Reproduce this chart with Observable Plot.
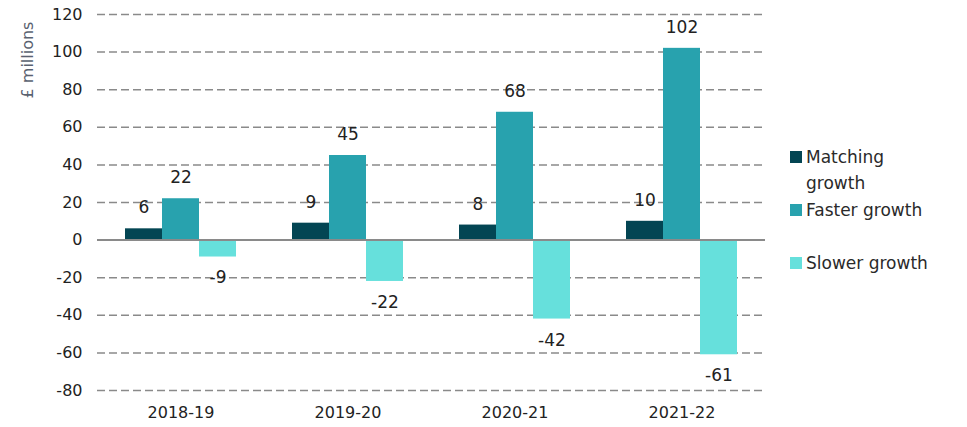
<!DOCTYPE html>
<html>
<head>
<meta charset="utf-8">
<script src="https://cdn.jsdelivr.net/npm/d3@7"></script>
<script src="https://cdn.jsdelivr.net/npm/@observablehq/plot@0.6"></script>
<style>
  body { margin: 0; background: #fff; }
  #wrap { position: relative; width: 967px; height: 427px; font-family: "DejaVu Sans", sans-serif; }
  #ylabel { position: absolute; left: 27px; top: 60px; transform: translate(-50%, -50%) rotate(-90deg); font-size: 16px; color: #5a6270; white-space: nowrap; }
  .leg { position: absolute; left: 790px; font-size: 17px; color: #2a2a2a; line-height: 26px; }
  .sw { position: absolute; left: 0; top: 7px; width: 12px; height: 12px; }
  .lt { margin-left: 16px; }
</style>
</head>
<body>
<div id="wrap">
  <div id="chart"></div>
  <div id="ylabel">£ millions</div>
  <div id="legend"></div>
</div>
<script>
const years = ["2018-19", "2019-20", "2020-21", "2021-22"];
const series = ["Matching growth", "Faster growth", "Slower growth"];
const matching = [6, 9, 8, 10];
const faster = [22, 45, 68, 102];
const slower = [-9, -22, -42, -61];
const colors = ["#034553", "#28a2ae", "#66e0dc"];
const yTicks = [-80, -60, -40, -20, 0, 20, 40, 60, 80, 100, 120];

const values = [matching, faster, slower];
const data = [];
years.forEach((yr, i) => series.forEach((s, j) => data.push({year: yr, series: s, value: values[j][i]})));

const chart = Plot.plot({
  width: 967,
  height: 427,
  marginTop: 14,
  marginBottom: 37,
  marginLeft: 95,
  marginRight: 201,
  style: {fontFamily: "DejaVu Sans, sans-serif", fontSize: "16px", color: "#222", background: "#fff"},
  fx: {domain: years, padding: 0, label: null},
  x: {domain: series, paddingInner: 0, paddingOuter: 0.72, axis: null},
  y: {domain: [-80, 120], label: null},
  color: {domain: series, range: colors},
  marks: [
    Plot.gridY(yTicks, {stroke: "#8a8a8a", strokeOpacity: 1, strokeWidth: 1.5, strokeDasharray: "8,4"}),
    Plot.axisY(yTicks, {tickSize: 0, tickPadding: 15, fontSize: 16, label: null, tickFormat: d => String(d)}),
    Plot.axisFx({anchor: "bottom", tickSize: 0, tickPadding: 16, fontSize: 16, label: null}),
    Plot.barY(data, {fx: "year", x: "series", y: "value", fill: "series", inset: 0}),
    Plot.ruleY([0], {stroke: "#8a8a8a", strokeWidth: 2}),
    Plot.text(data.filter(d => d.value >= 0), {fx: "year", x: "series", y: "value", text: d => String(d.value), dy: -21, fontSize: 17, fill: "#222"}),
    Plot.text(data.filter(d => d.value < 0), {fx: "year", x: "series", y: "value", text: d => String(d.value), dy: 21, fontSize: 17, fill: "#222"})
  ]
});
document.getElementById("chart").appendChild(chart);

const legendItems = [
  {label: "Matching<br>growth", top: 144},
  {label: "Faster growth", top: 197},
  {label: "Slower growth", top: 250}
];
const legend = document.getElementById("legend");
legendItems.forEach((it, i) => {
  const div = document.createElement("div");
  div.className = "leg";
  div.style.top = it.top + "px";
  div.innerHTML = `<span class="sw" style="background:${colors[i]}"></span><div class="lt">${it.label}</div>`;
  legend.appendChild(div);
});
</script>
</body>
</html>
